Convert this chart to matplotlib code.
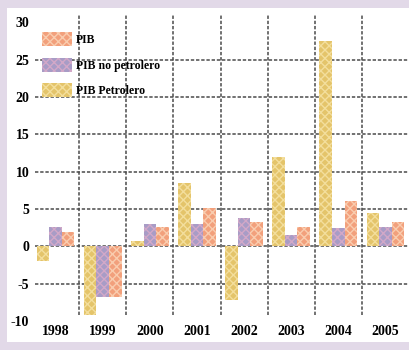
import matplotlib
matplotlib.use("Agg")
import matplotlib.pyplot as plt
import matplotlib.patches as mpatches
import numpy as np

years = ["1998", "1999", "2000", "2001", "2002", "2003", "2004", "2005"]
pib_petrolero = [-2.0, -9.2, 0.7, 8.5, -7.2, 12.0, 27.5, 4.5]
pib_no_petrolero = [2.6, -6.8, 3.0, 3.0, 3.8, 1.5, 2.4, 2.6]
pib = [1.9, -6.8, 2.6, 5.1, 3.3, 2.6, 6.1, 3.2]

series = [
    ("PIB Petrolero", pib_petrolero, "#E4C46A", "#F3DE9C"),
    ("PIB no petrolero", pib_no_petrolero, "#A89CC6", "#D2A8C8"),
    ("PIB", pib, "#F2A07C", "#F9CCAE"),
]

plt.rcParams["font.family"] = ["Liberation Serif", "DejaVu Serif"]
plt.rcParams["hatch.linewidth"] = 1.0

W, H = 409, 350
fig = plt.figure(figsize=(W / 100, H / 100), dpi=100)
fig.patch.set_facecolor("white")
# lavender frame on the top, left and bottom edges
frame = "#E2D9E8"
for (x0, y0, bw, bh) in [(0, H - 8, W, 8), (0, 0, 7, H), (0, 0, W, 8)]:
    fig.patches.append(mpatches.Rectangle((x0 / W, y0 / H), bw / W, bh / H,
                                          transform=fig.transFigure,
                                          facecolor=frame, edgecolor="none",
                                          zorder=-10))

ax = fig.add_axes([32 / W, 29 / H, 377 / W, 306 / H])
ax.set_facecolor("none")

x = np.arange(len(years))
w = 0.8 / 3
for i, (name, vals, fc, hc) in enumerate(series):
    ax.bar(x + (i - 1) * w, vals, width=w, color=fc, edgecolor=hc,
           linewidth=0, hatch="xxxx", zorder=3)

ax.set_xlim(-0.5, len(years) - 0.5)
ax.set_ylim(-10, 31)

grid_kw = dict(color="#4a4a4a", linestyle=(0, (2.2, 1.2)), linewidth=1.1, zorder=2)
for yv in [-5, 0, 5, 10, 15, 20, 25]:
    ax.axhline(yv, xmin=3 / 376, **grid_kw)
for xv in np.arange(0.5, len(years) - 0.5, 1.0):
    ax.axvline(xv, ymin=0.02, ymax=1.0, **grid_kw)

for s in ax.spines.values():
    s.set_visible(False)
ax.set_yticks(range(-10, 31, 5))
ax.set_yticklabels([str(v) for v in range(-10, 31, 5)])
ax.set_xticks(x)
ax.set_xticklabels(years)
ax.tick_params(length=0, labelsize=10)
ax.tick_params(axis="y", pad=2)
ax.tick_params(axis="x", pad=3)
for t in ax.get_xticklabels() + ax.get_yticklabels():
    t.set_fontweight("bold")

handles = [mpatches.Patch(facecolor=fc, edgecolor=hc, linewidth=0, hatch="xxxx", label=name)
           for name, vals, fc, hc in [series[2], series[1], series[0]]]
leg = ax.legend(handles=handles, loc="upper left", bbox_to_anchor=(0.026, 0.945),
                frameon=False, fontsize=8.5, handlelength=2.55, handleheight=1.45,
                handletextpad=0.35, labelspacing=1.0, borderaxespad=0,
                borderpad=0)
for t in leg.get_texts():
    t.set_fontweight("bold")

fig.savefig("out.png", dpi=100, facecolor=fig.get_facecolor())
